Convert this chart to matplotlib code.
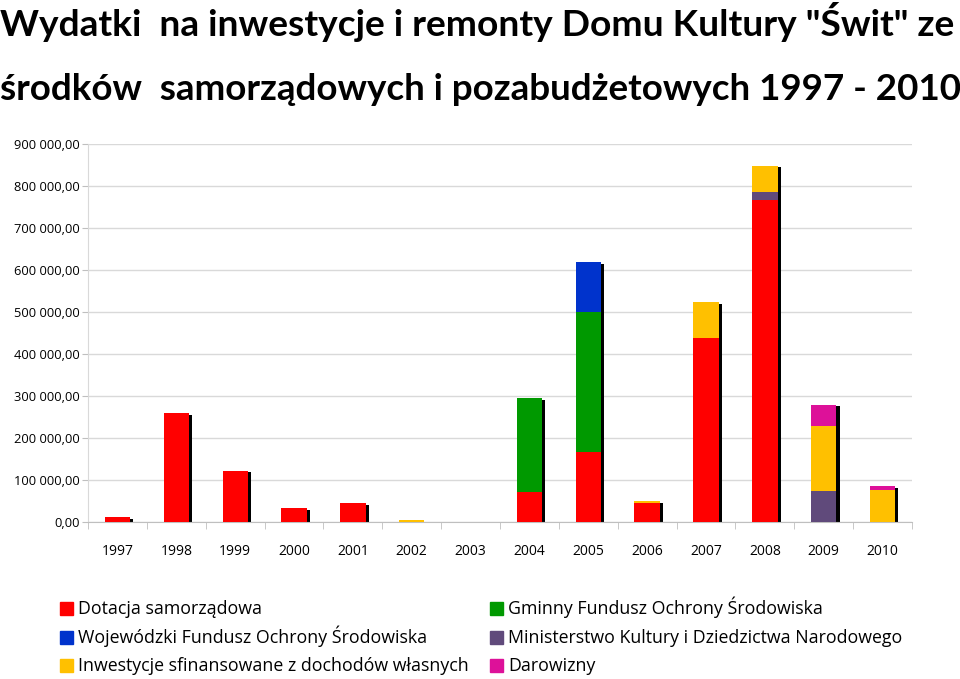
import matplotlib.pyplot as plt
from matplotlib.patches import Rectangle
import numpy as np

# values (PLN)
years = ['1997', '1998', '1999', '2000', '2001', '2002', '2003',
         '2004', '2005', '2006', '2007', '2008', '2009', '2010']
dotacja = [11000, 259000, 122000, 32500, 44500, 0, 0,
           70500, 166500, 44500, 438000, 766000, 0, 0]
gminny = [0, 0, 0, 0, 0, 0, 0, 224000, 333000, 0, 0, 0, 0, 0]
wojewodzki = [0, 0, 0, 0, 0, 0, 0, 0, 119000, 0, 0, 0, 0, 0]
ministerstwo = [0, 0, 0, 0, 0, 0, 0, 0, 0, 0, 0, 20000, 73000, 0]
inwestycje = [0, 0, 0, 0, 0, 4500, 0, 0, 0, 5000, 85000, 62500, 155000, 75500]
darowizny = [0, 0, 0, 0, 0, 0, 0, 0, 0, 0, 0, 0, 51500, 9500]

series = [
    ('Dotacja samorządowa', dotacja, '#FF0000'),
    ('Gminny Fundusz Ochrony Środowiska', gminny, '#009900'),
    ('Wojewódzki Fundusz Ochrony Środowiska', wojewodzki, '#0033CC'),
    ('Ministerstwo Kultury i Dziedzictwa Narodowego', ministerstwo, '#604A7B'),
    ('Inwestycje sfinansowane z dochodów własnych', inwestycje, '#FFC000'),
    ('Darowizny', darowizny, '#DD1199'),
]

W, H = 960, 679
fig = plt.figure(figsize=(W / 100, H / 100), dpi=100)
ax = fig.add_axes([0.0917, 0.2312, 0.8583, 0.5567])

x = np.arange(len(years))
w = 0.43

# black drop shadow behind each stack
total = np.sum([s[1] for s in series], axis=0)
shadow = np.clip(total - 4000, 0, None)
ax.bar(x + 0.055, shadow, w, color='black', zorder=2)

bottom = np.zeros(len(years))
for name, vals, col in series:
    vals = np.array(vals, dtype=float)
    ax.bar(x, vals, w, bottom=bottom, color=col, zorder=3, linewidth=0)
    bottom += vals

yt = np.arange(0, 900001, 100000)
ax.set_xlim(-0.5, len(years) - 0.5)
ax.set_ylim(0, 900000)
ax.set_yticks(yt)
ax.set_yticklabels([('{:,.2f}'.format(v)).replace(',', ' ').replace('.', ',')
                    for v in yt], fontsize=9.3, family='Open Sans')
ax.set_xticks(x)
ax.set_xticklabels(years, fontsize=10, family='Open Sans')
ax.set_xticks(np.arange(-0.5, len(years)), minor=True)
ax.tick_params(axis='x', which='major', length=0, pad=16)
ax.tick_params(axis='x', which='minor', length=5, color='#BFBFBF')
ax.tick_params(axis='y', length=4, color='#BFBFBF', pad=2)
ax.grid(axis='y', color='#D9D9D9', linewidth=1, zorder=0)
ax.set_axisbelow(True)
for sp in ['top', 'right']:
    ax.spines[sp].set_visible(False)
ax.spines['left'].set_color('#D9D9D9')
ax.spines['bottom'].set_color('#BFBFBF')

# title, two lines
fig.text(0.0, 1 - 22 / H, 'Wydatki  na inwestycje i remonty Domu Kultury "Świt" ze',
         fontsize=26.7, fontweight='bold', family='Lato', va='center', ha='left')
fig.text(0.0, 1 - 90 / H, 'środków  samorządowych i pozabudżetowych 1997 - 2010',
         fontsize=26.5, fontweight='bold', family='Lato', va='center', ha='left')

# legend laid out as in the reference: two columns, three rows
legend_cols = [(60, [series[0], series[2], series[4]]),
               (490, [series[1], series[3], series[5]])]
rows_y = [608, 637, 665]
for x0, items in legend_cols:
    for (name, _, col), yy in zip(items, rows_y):
        fig.patches.append(Rectangle((x0 / W, 1 - (yy + 6.5) / H), 13 / W, 13 / H,
                                     transform=fig.transFigure, color=col))
        fig.text((x0 + 18) / W, 1 - (yy + 6) / H, name, fontsize=12.8,
                 family='Open Sans', va='baseline', ha='left')

fig.savefig('out.png', dpi=100)
